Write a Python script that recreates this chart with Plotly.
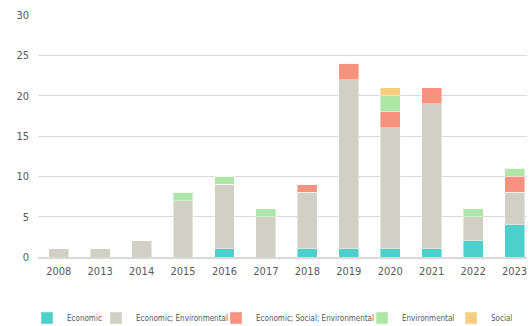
import plotly.graph_objects as go

years = ["2008", "2013", "2014", "2015", "2016", "2017", "2018", "2019", "2020", "2021", "2022", "2023"]
economic = [0, 0, 0, 0, 1, 0, 1, 1, 1, 1, 2, 4]
econ_env = [1, 1, 2, 7, 8, 5, 7, 21, 15, 18, 3, 4]
econ_soc_env = [0, 0, 0, 0, 0, 0, 1, 2, 2, 2, 0, 2]
environmental = [0, 0, 0, 1, 1, 1, 0, 0, 2, 0, 1, 1]
social = [0, 0, 0, 0, 0, 0, 0, 0, 1, 0, 0, 0]

series = [
    ("Economic", economic, "#4DD0CC"),
    ("Economic; Environmental", econ_env, "#D0D0C4"),
    ("Economic; Social; Environmental", econ_soc_env, "#F7927E"),
    ("Environmental", environmental, "#ADE6A7"),
    ("Social", social, "#F5CF7F"),
]

font_family = "Liberation Sans Narrow, DejaVu Sans Condensed, Roboto, sans-serif"
legend_names = ["legend", "legend2", "legend3", "legend4", "legend5"]
legend_x_px = [67, 136, 256, 402, 491]  # text start, pixels

fig = go.Figure()
for (name, vals, color), lg in zip(series, legend_names):
    fig.add_trace(go.Bar(
        x=years, y=vals, name=name, legend=lg,
        marker=dict(color=color, line=dict(color="rgba(255,255,255,0.6)", width=0.7)),
        width=0.48,
    ))

plot_left, plot_w = 38, 489
legend_common = dict(orientation="h", xanchor="left", y=-0.252, yanchor="middle",
                     font=dict(size=8, color="#595959"), itemwidth=30,
                     bgcolor="rgba(0,0,0,0)")
layout_legends = {}
for lg, px in zip(legend_names, legend_x_px):
    layout_legends[lg] = dict(legend_common, x=(px - 40 - plot_left) / plot_w)

fig.update_layout(
    barmode="stack",
    width=529, height=326,
    margin=dict(l=38, r=2, t=15, b=69, autoexpand=False),
    plot_bgcolor="white", paper_bgcolor="white",
    font=dict(family=font_family, color="#595959", size=12),
    xaxis=dict(type="category", range=[-0.5, 11.3], showgrid=False,
               ticks="", showline=True, linecolor="#D9D9D9", linewidth=1.5,
               tickfont=dict(size=11, color="#595959"), ticklabelstandoff=3),
    yaxis=dict(range=[0, 30], dtick=5, showgrid=True, gridcolor="#D9D9D9", gridwidth=1,
               zeroline=False, ticks="", tickfont=dict(size=11, color="#595959"),
               ticklabelstandoff=8),
    showlegend=True,
    **layout_legends,
)

fig.write_html("out.html")
